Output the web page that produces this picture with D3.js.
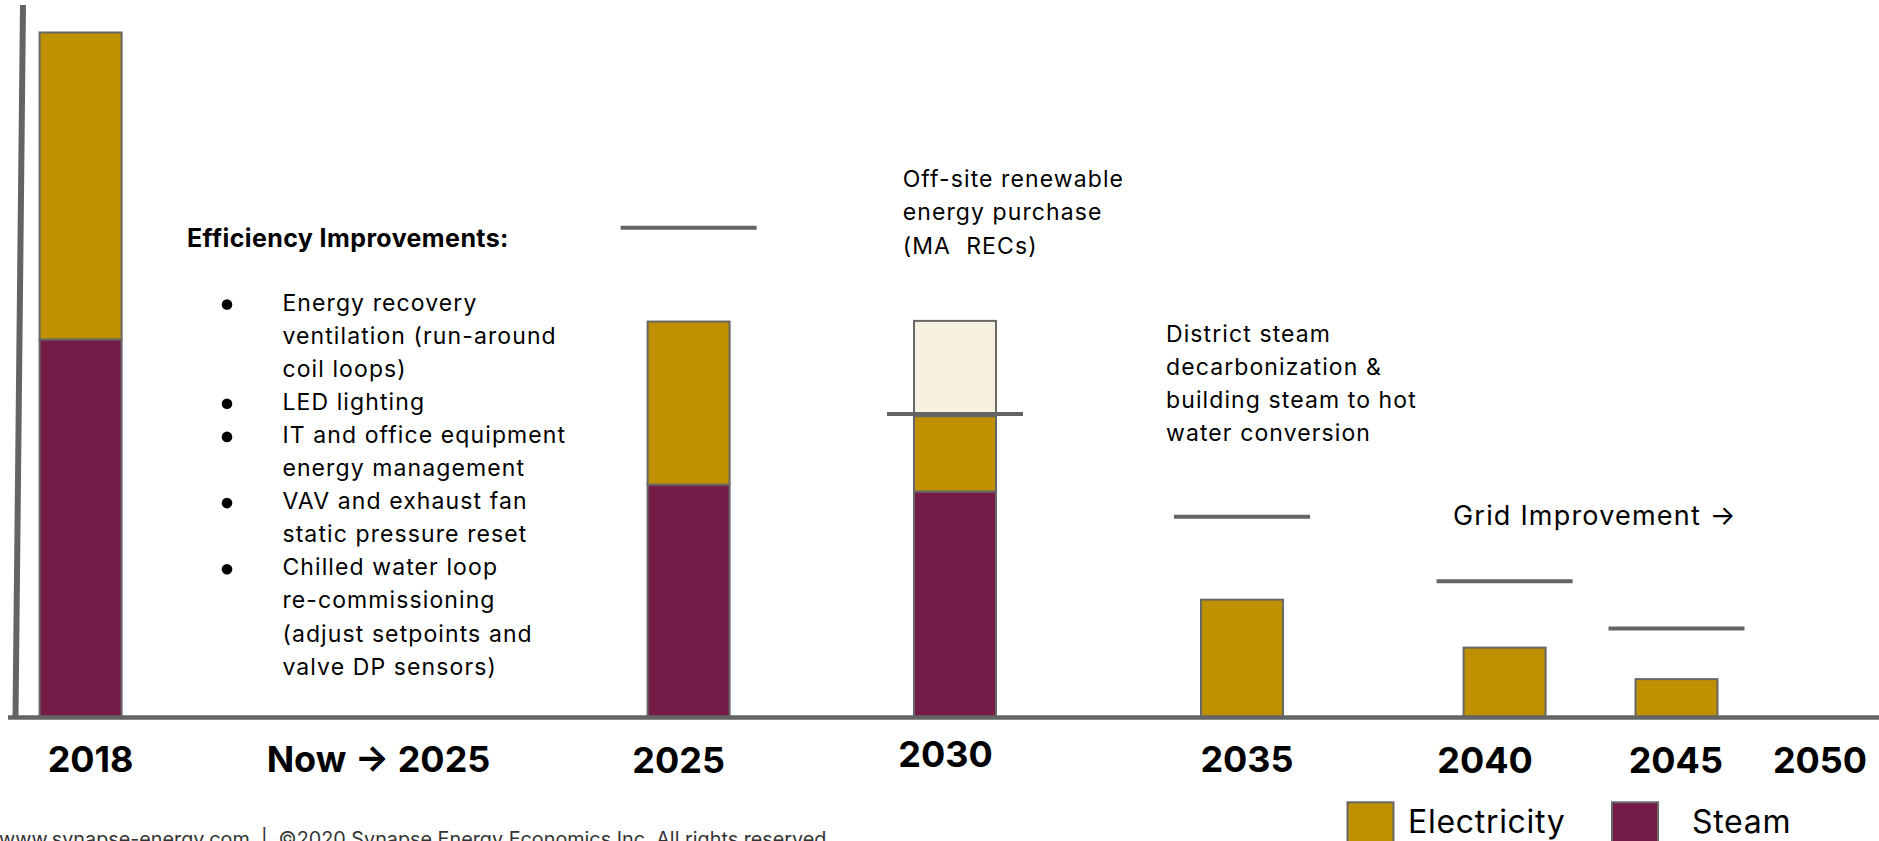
<!DOCTYPE html>
<html>
<head>
<meta charset="utf-8">
<script src="https://cdn.jsdelivr.net/npm/d3@7"></script>
<style>
  html, body { margin: 0; padding: 0; background: #fff; overflow: hidden; }
  svg { display: block; }
  text { font-family: Inter, "Noto Sans", sans-serif; }
</style>
</head>
<body>
<svg id="chart" width="1879" height="841"></svg>
<script>
// ---- Data -------------------------------------------------------------
// Timeline slots along the x axis
const slots = ["2018", "Now \u2192 2025", "2025", "2030", "2035", "2040", "2045", "2050"];
// Emissions by source, indexed to the 2018 total (= 100); null = no bar in that slot
const steam       = [55.2, null, 34.0, 33.0, 0,    0,    0,   0];
const electricity = [44.8, null, 23.8, 11.0, 17.2, 10.2, 5.6, 0];
const offsetRECs  = [0,    null, 0,    13.9, 0,    0,    0,   0];
// Reduction target for each milestone year
const targets     = [null, null, 71.5, 44.3, 29.3, 19.9, 13.0, null];

const seriesKeys = ["steam", "electricity", "recs"];
const legendKeys = ["electricity", "steam"];
const legendLabels = ["Electricity", "Steam"];

const efficiencyTitle = "Efficiency Improvements:";
const efficiencyItems = [
  ["Energy recovery", "ventilation (run-around", "coil loops)"],
  ["LED lighting"],
  ["IT and office equipment", "energy management"],
  ["VAV and exhaust fan", "static pressure reset"],
  ["Chilled water loop", "re-commissioning", "(adjust setpoints and", "valve DP sensors)"]
];
const recNote = ["Off-site renewable", "energy purchase", "(MA  RECs)"];
const steamNote = ["District steam", "decarbonization &", "building steam to hot", "water conversion"];
const gridNote = "Grid Improvement \u2192";
const footerText = "www.synapse-energy.com  |  \u00a92020 Synapse Energy Economics Inc. All rights reserved.";

// ---- Styling & layout -------------------------------------------------
const colors = { steam: "#741b47", electricity: "#bf9000", recs: "#f6f0e0" };
const outline = "#676767";
const axisGray = "#646464";
const baselineY = 717.5;
const barWidth = 82;
const targetWidth = 136;
const lineGap = 33.1;

// Slot centres on the timeline (the slide spaces milestones unevenly)
const slotCentres = [80.6, 378.5, 688.6, 955, 1242, 1504.6, 1676.5, 1820];
// Fine placement of the year labels relative to their slot
const labelShift = [[10, 54], [0, 54], [-10, 55.5], [-9.5, 49.5], [5, 54], [-19.6, 55.5], [-0.7, 55.5], [0, 55.5]];

const svg = d3.select("#chart");

const x = d3.scaleLinear()
  .domain(d3.range(slots.length))
  .range(slotCentres);

const y = d3.scaleLinear()
  .domain([0, 100])
  .range([baselineY, 32.5]);

// ---- Stacked bars -------------------------------------------------------
const table = slots.map((s, i) => ({
  slot: s, i,
  steam: steam[i], electricity: electricity[i], recs: offsetRECs[i]
})).filter(d => d.steam !== null);

const stacked = d3.stack().keys(seriesKeys)(table);

const barsG = svg.append("g").attr("class", "bars");
stacked.forEach(layer => {
  barsG.append("g")
    .attr("fill", colors[layer.key])
    .selectAll("rect")
    .data(layer.filter(d => d[1] - d[0] > 0))
    .join("rect")
      .attr("x", d => x(d.data.i) - barWidth / 2)
      .attr("width", barWidth)
      .attr("y", d => y(d[1]))
      .attr("height", d => y(d[0]) - y(d[1]))
      .attr("stroke", outline)
      .attr("stroke-width", 2);
});

// ---- Target markers -----------------------------------------------------
svg.append("g").attr("class", "targets")
  .selectAll("line")
  .data(targets.map((t, i) => ({ t, i })).filter(d => d.t !== null))
  .join("line")
    .attr("x1", d => x(d.i) - targetWidth / 2)
    .attr("x2", d => x(d.i) + targetWidth / 2)
    .attr("y1", d => y(d.t))
    .attr("y2", d => y(d.t))
    .attr("stroke", axisGray)
    .attr("stroke-width", 4);

// ---- Axes ---------------------------------------------------------------
// vertical axis: hand-drawn look, leaning slightly
svg.append("line")
  .attr("x1", 23).attr("y1", 5)
  .attr("x2", 15.5).attr("y2", baselineY)
  .attr("stroke", axisGray).attr("stroke-width", 6);

svg.append("line")
  .attr("x1", 8).attr("x2", 1879)
  .attr("y1", baselineY).attr("y2", baselineY)
  .attr("stroke", axisGray).attr("stroke-width", 4.5);

// Year labels
svg.append("g").attr("class", "x-labels")
  .selectAll("text")
  .data(slots)
  .join("text")
    .attr("x", (d, i) => x(i) + labelShift[i][0])
    .attr("y", (d, i) => baselineY + labelShift[i][1])
    .attr("text-anchor", "middle")
    .attr("font-size", 36)
    .attr("font-weight", 700)
    .attr("fill", "#000")
    .text(d => d);

// ---- Annotations --------------------------------------------------------
const noteFont = 23;
const noteSpacing = 1.1;

svg.append("text")
  .attr("x", 187).attr("y", 246.7)
  .attr("font-size", 25).attr("font-weight", 700)
  .attr("letter-spacing", 0.4)
  .attr("fill", "#000")
  .text(efficiencyTitle);

const bulletG = svg.append("g").attr("class", "bullets");
let lineIdx = 0;
efficiencyItems.forEach(item => {
  const firstBase = 310.5 + lineIdx * lineGap;
  bulletG.append("circle")
    .attr("cx", 227).attr("cy", firstBase - 6)
    .attr("r", 5.3).attr("fill", "#000");
  item.forEach(line => {
    bulletG.append("text")
      .attr("x", 282.4)
      .attr("y", 310.5 + lineIdx * lineGap)
      .attr("font-size", noteFont)
      .attr("letter-spacing", noteSpacing)
      .attr("fill", "#000")
      .text(line);
    lineIdx++;
  });
});

function noteBlock(lines, x0, y0, size, spacing) {
  const g = svg.append("g");
  g.selectAll("text")
    .data(lines)
    .join("text")
      .attr("x", x0)
      .attr("y", (d, i) => y0 + i * lineGap)
      .attr("font-size", size)
      .attr("letter-spacing", spacing)
      .attr("fill", "#000")
      .style("white-space", "pre")
      .text(d => d);
}
noteBlock(recNote, 902.7, 187.3, noteFont, noteSpacing);
noteBlock(steamNote, 1166, 341.7, noteFont, noteSpacing);
noteBlock([gridNote], 1453, 525, 27, 1.2);

// ---- Legend ---------------------------------------------------------------
const legendX = [1347.5, 1612];
const legendTextX = [1408, 1692];
const legend = svg.append("g").attr("class", "legend");
legendKeys.forEach((k, i) => {
  legend.append("rect")
    .attr("x", legendX[i]).attr("y", 802.3)
    .attr("width", 46).attr("height", 46)
    .attr("fill", colors[k])
    .attr("stroke", outline).attr("stroke-width", 2);
  legend.append("text")
    .attr("x", legendTextX[i]).attr("y", 833)
    .attr("font-size", 32)
    .attr("letter-spacing", 0.7)
    .attr("fill", "#000")
    .text(legendLabels[i]);
});

// ---- Footer -------------------------------------------------------------
svg.append("text")
  .attr("x", -1).attr("y", 846)
  .attr("font-family", "'Liberation Sans', Arial, sans-serif")
  .attr("font-size", 19.8)
  .attr("fill", "#333")
  .style("white-space", "pre")
  .text(footerText);
</script>
</body>
</html>
